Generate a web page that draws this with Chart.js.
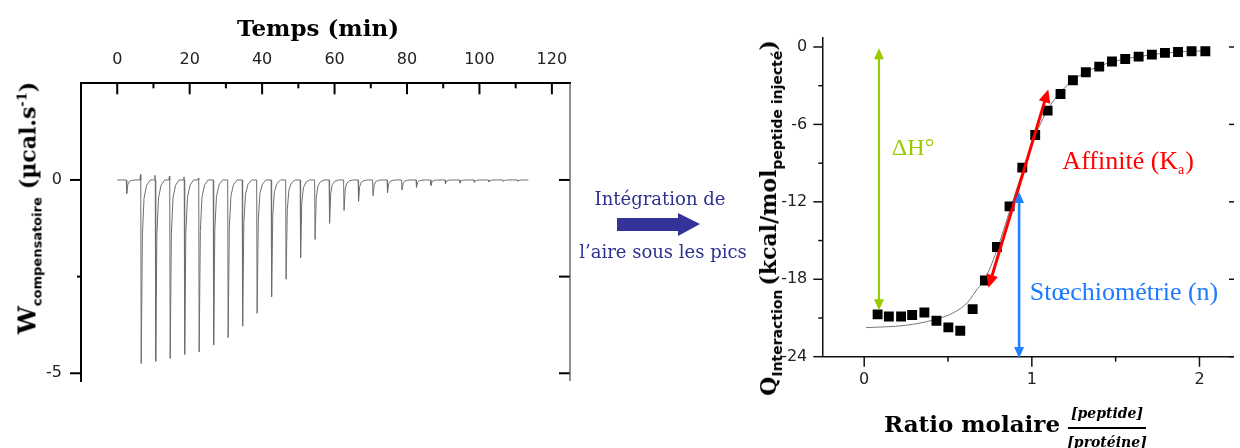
<!DOCTYPE html>
<html>
<head>
<meta charset="utf-8">
<script src="https://cdn.jsdelivr.net/npm/chart.js@4.4.0/dist/chart.umd.min.js"></script>
<style>
  body { margin: 0; width: 1240px; height: 448px; overflow: hidden; position: relative; background: #fff; }
  canvas { position: absolute; top: 0; }
  #thermo { left: 0; }
  #isotherm { left: 760px; }
  .t { position: absolute; white-space: nowrap; line-height: 1; transform: translate(-50%, -50%); }
  .bs { font-family: "DejaVu Serif", serif; font-weight: bold; }
  .sub { font-family: "DejaVu Sans", sans-serif; font-weight: bold; position: relative; top: 0.45em; }
  .mid { font-family: "DejaVu Serif", serif; font-size: 18px; color: #2e3192; }
</style>
</head>
<body>
<canvas id="thermo" width="600" height="448"></canvas>
<canvas id="isotherm" width="480" height="448"></canvas>

<div class="t bs" style="left:318px; top:27px; font-size:23px">Temps (min)</div>

<div class="t" style="left:27px; top:208px; transform:translate(-50%,-50%) rotate(-90deg)">
  <span class="bs" style="font-size:25px">W</span><span class="sub" style="font-size:13px">compensatoire</span>&nbsp;&nbsp;<span class="bs" style="font-size:22px">(µcal.s<span style="font-size:13px; position:relative; top:-0.7em">-1</span>)</span>
</div>

<div class="t mid" style="left:660px; top:199px">Intégration de</div>
<svg style="position:absolute; left:610px; top:205px" width="100" height="40">
  <polygon points="7,13 68,13 68,8 90,19 68,31 68,26 7,26" fill="#333399"/>
</svg>
<div class="t mid" style="left:663px; top:252px">l’aire sous les pics</div>

<div class="t" style="left:768px; top:218px; transform:translate(-50%,-50%) rotate(-90deg)">
  <span class="bs" style="font-size:22px">Q</span><span class="sub" style="font-size:14px">Interaction</span>&nbsp;<span class="bs" style="font-size:22px">(kcal/mol</span><span class="sub" style="font-size:14px">peptide injecté</span><span class="bs" style="font-size:22px">)</span>
</div>

<div class="t bs" style="left:884px; top:423px; font-size:23px; transform:translate(0,-50%)">Ratio molaire</div>
<div class="t bs" style="left:1107px; top:413px; font-size:14px; font-style:italic">[peptide]</div>
<div style="position:absolute; left:1068px; top:427px; width:78px; height:2px; background:#000"></div>
<div class="t bs" style="left:1107px; top:442px; font-size:14px; font-style:italic">[protéine]</div>

<script>
  // thermogram (left)
  const timeTicks = [0, 20, 40, 60, 80, 100, 120]
  const timeMinorTicks = [10, 30, 50, 70, 90, 110]
  const powerTicks = [0, -5]
  const powerMinorTicks = [-2.5]
  const injectionTimes = [2.5, 6.5, 10.5, 14.5, 18.5, 22.5, 26.5, 30.5, 34.5, 38.5, 42.5, 46.5, 50.5, 54.5,
    58.5, 62.5, 66.5, 70.5, 74.5, 78.5, 82.5, 86.5, 90.5, 94.5, 98.5, 102.5, 106.5, 110.5]
  const peakDepths = [-0.35, -4.75, -4.69, -4.62, -4.51, -4.45, -4.27, -4.08, -3.78, -3.45, -3.02, -2.57, -2.01, -1.54,
    -1.12, -0.79, -0.55, -0.41, -0.33, -0.26, -0.19, -0.14, -0.10, -0.08, -0.06, -0.05, -0.04, -0.03]
  const peakOvershoot = [0, 0.14, 0.12, 0.1, 0.08, 0.05, 0, 0, 0, 0, 0, 0, 0, 0, 0, 0, 0, 0, 0, 0, 0, 0, 0, 0, 0, 0, 0, 0]
  const runStart = 0
  const runEnd = 113.5
  // shape of one peak: minutes after injection / fraction of depth
  const peakShapeTime = [0, 0.12, 0.45, 0.9, 1.6, 2.6]
  const peakShapeFraction = [0, 1, 0.3, 0.1, 0.03, 0]

  // isotherm (right)
  const ratioTicks = [0, 1, 2]
  const ratioMinorTicks = [0.5, 1.5]
  const qTicks = [0, -6, -12, -18, -24]
  const qMinorTicks = [-3, -9, -15, -21]
  const molarRatio = [0.080, 0.147, 0.220, 0.286, 0.359, 0.431, 0.502, 0.573, 0.647, 0.720, 0.792, 0.867, 0.943, 1.020,
    1.094, 1.171, 1.245, 1.322, 1.402, 1.478, 1.557, 1.637, 1.716, 1.794, 1.872, 1.953, 2.035]
  const qInteraction = [-20.72, -20.88, -20.88, -20.77, -20.57, -21.21, -21.73, -21.99, -20.31, -18.09, -15.50, -12.35, -9.35, -6.82,
    -4.93, -3.64, -2.58, -1.96, -1.52, -1.13, -0.93, -0.75, -0.59, -0.46, -0.39, -0.33, -0.33]
  const fitRatio = [0.01, 0.245, 0.42, 0.54, 0.618, 0.676, 0.716, 0.79, 0.87, 0.94, 1.01, 1.08, 1.15, 1.245, 1.32, 1.40,
    1.48, 1.56, 1.64, 1.72, 1.80, 1.87, 1.95, 2.04]
  const fitQ = [-21.75, -21.57, -21.13, -20.54, -19.77, -18.73, -18.09, -15.8, -12.6, -9.8, -7.2, -5.2, -3.8, -2.6, -1.96, -1.5,
    -1.15, -0.92, -0.74, -0.59, -0.47, -0.39, -0.33, -0.30]
  const enthalpyArrow = [[0.088, -0.1], [0.088, -20.4]]
  const affinityArrow = [[0.741, -18.65], [1.098, -3.30]]
  const stoichArrow = [[0.924, -11.24], [0.924, -24.1]]

  const thermogram = [{ x: runStart, y: 0 }]
  injectionTimes.forEach((t, i) => {
    if (peakOvershoot[i]) thermogram.push({ x: t - 0.25, y: 0 }, { x: t - 0.08, y: peakOvershoot[i] })
    peakShapeTime.forEach((dt, k) => thermogram.push({ x: t + dt, y: peakDepths[i] * peakShapeFraction[k] }))
  })
  thermogram.push({ x: runEnd, y: 0 })

  function seg(ctx, x1, y1, x2, y2) {
    ctx.beginPath()
    ctx.moveTo(x1, y1)
    ctx.lineTo(x2, y2)
    ctx.stroke()
  }

  const thermoFrame = {
    id: 'thermoFrame',
    afterDraw(chart) {
      const { ctx, chartArea: a, scales: { x, y } } = chart
      ctx.save()
      ctx.strokeStyle = '#000'
      ctx.lineWidth = 2
      timeTicks.forEach(v => seg(ctx, x.getPixelForValue(v), a.top, x.getPixelForValue(v), a.top + 11))
      timeMinorTicks.forEach(v => seg(ctx, x.getPixelForValue(v), a.top, x.getPixelForValue(v), a.top + 5))
      powerTicks.forEach(v => seg(ctx, a.left - 11, y.getPixelForValue(v), a.left, y.getPixelForValue(v)))
      powerMinorTicks.forEach(v => seg(ctx, a.left - 4, y.getPixelForValue(v), a.left, y.getPixelForValue(v)))
      powerTicks.concat(powerMinorTicks).forEach(v => seg(ctx, a.right - 11, y.getPixelForValue(v), a.right, y.getPixelForValue(v)))
      ctx.strokeStyle = '#555'
      ctx.lineWidth = 1.3
      seg(ctx, a.right, a.top, a.right, a.bottom)
      ctx.restore()
    }
  }

  const tickFont = { family: 'DejaVu Sans', size: 16 }

  new Chart(document.getElementById('thermo'), {
    type: 'line',
    data: {
      datasets: [{ data: thermogram, borderColor: '#6e6e6e', borderWidth: 1, pointRadius: 0, tension: 0 }]
    },
    options: {
      responsive: false,
      animation: false,
      devicePixelRatio: 1,
      layout: { padding: { left: 0, top: 0, right: 30, bottom: 67 } },
      plugins: { legend: { display: false }, tooltip: { enabled: false } },
      scales: {
        x: {
          type: 'linear', position: 'top', min: -10, max: 125,
          afterBuildTicks: s => { s.ticks = timeTicks.map(v => ({ value: v })) },
          afterFit: s => { s.height = 83.3 },
          grid: { display: false, drawTicks: false },
          border: { display: true, color: '#000', width: 2 },
          ticks: { padding: 14, color: '#222', font: tickFont, maxRotation: 0, autoSkip: false }
        },
        y: {
          type: 'linear', min: -5.2, max: 2.5,
          afterBuildTicks: s => { s.ticks = powerTicks.map(v => ({ value: v })) },
          afterFit: s => { s.width = 81 },
          grid: { display: false, drawTicks: false },
          border: { display: true, color: '#000', width: 2 },
          ticks: { padding: 19, color: '#222', font: tickFont }
        }
      }
    },
    plugins: [thermoFrame]
  })

  const arrows = [
    { pts: enthalpyArrow, color: '#99cc00', width: 2.2, len: 11, half: 5 },
    { pts: affinityArrow, color: '#ff0000', width: 3, len: 13, half: 6 },
    { pts: stoichArrow, color: '#1e82ff', width: 2.6, len: 11, half: 5 }
  ]
  const notes = [
    { text: 'ΔH°', x: 0.165, y: -7.85, color: '#99cc00', size: 24 },
    { text: 'Affinité (K', sub: 'a', after: ')', x: 1.182, y: -8.91, color: '#ff0000', size: 26 },
    { text: 'Stœchiométrie (n)', x: 0.988, y: -19.07, color: '#1e7bff', size: 26 }
  ]

  function head(ctx, tip, from, len, half) {
    const d = Math.hypot(tip.x - from.x, tip.y - from.y)
    const ux = (tip.x - from.x) / d, uy = (tip.y - from.y) / d
    const bx = tip.x - ux * len, by = tip.y - uy * len
    ctx.beginPath()
    ctx.moveTo(tip.x, tip.y)
    ctx.lineTo(bx - uy * half, by + ux * half)
    ctx.lineTo(bx + uy * half, by - ux * half)
    ctx.closePath()
    ctx.fill()
  }

  const isoFrame = {
    id: 'isoFrame',
    afterDatasetsDraw(chart) {
      const { ctx, chartArea: a, scales: { x, y } } = chart
      ctx.save()
      ctx.strokeStyle = '#111'
      ctx.lineWidth = 1.5
      ratioTicks.forEach(v => seg(ctx, x.getPixelForValue(v), a.bottom, x.getPixelForValue(v), a.bottom + 10))
      ratioMinorTicks.forEach(v => seg(ctx, x.getPixelForValue(v), a.bottom, x.getPixelForValue(v), a.bottom + 5))
      qTicks.forEach(v => seg(ctx, a.left - 9, y.getPixelForValue(v), a.left, y.getPixelForValue(v)))
      qMinorTicks.forEach(v => seg(ctx, a.left - 4, y.getPixelForValue(v), a.left, y.getPixelForValue(v)))
      qTicks.forEach(v => seg(ctx, a.right - 4, y.getPixelForValue(v), a.right + 1, y.getPixelForValue(v)))

      // double arrows from the arrow datasets
      arrows.forEach((arw, i) => {
        const pts = chart.getDatasetMeta(i + 2).data
        const p0 = { x: pts[0].x, y: pts[0].y }, p1 = { x: pts[1].x, y: pts[1].y }
        const d = Math.hypot(p1.x - p0.x, p1.y - p0.y)
        const ux = (p1.x - p0.x) / d, uy = (p1.y - p0.y) / d
        ctx.strokeStyle = arw.color
        ctx.fillStyle = arw.color
        ctx.lineWidth = arw.width
        seg(ctx, p0.x + ux * (arw.len - 2), p0.y + uy * (arw.len - 2), p1.x - ux * (arw.len - 2), p1.y - uy * (arw.len - 2))
        head(ctx, p0, p1, arw.len, arw.half)
        head(ctx, p1, p0, arw.len, arw.half)
      })

      ctx.textBaseline = 'middle'
      ctx.textAlign = 'left'
      notes.forEach(n => {
        const px = x.getPixelForValue(n.x), py = y.getPixelForValue(n.y)
        ctx.fillStyle = n.color
        ctx.font = n.size + 'px "Liberation Serif"'
        ctx.fillText(n.text, px, py)
        if (n.sub) {
          let w = ctx.measureText(n.text).width
          ctx.font = Math.round(n.size * 0.55) + 'px "Liberation Serif"'
          ctx.fillText(n.sub, px + w, py + n.size * 0.32)
          w += ctx.measureText(n.sub).width + 1
          ctx.font = n.size + 'px "Liberation Serif"'
          ctx.fillText(n.after, px + w, py)
        }
      })
      ctx.restore()
    }
  }

  const toPoints = pairs => pairs.map(p => ({ x: p[0], y: p[1] }))

  new Chart(document.getElementById('isotherm'), {
    type: 'scatter',
    data: {
      datasets: [
        {
          data: molarRatio.map((r, i) => ({ x: r, y: qInteraction[i] })),
          pointStyle: 'rect', pointRadius: 7, pointBorderWidth: 0,
          pointBackgroundColor: '#000', showLine: false, order: 1
        },
        {
          data: fitRatio.map((r, i) => ({ x: r, y: fitQ[i] })),
          showLine: true, borderColor: '#777', borderWidth: 1, pointRadius: 0,
          cubicInterpolationMode: 'monotone', order: 2
        },
        ...arrows.map(arw => ({ data: toPoints(arw.pts), showLine: false, pointRadius: 0, clip: false, order: 0 }))
      ]
    },
    options: {
      responsive: false,
      animation: false,
      devicePixelRatio: 1,
      layout: { padding: { left: 0, top: 37.3, right: 1, bottom: 0 } },
      plugins: { legend: { display: false }, tooltip: { enabled: false } },
      scales: {
        x: {
          type: 'linear', min: -0.25, max: 2.2,
          afterBuildTicks: s => { s.ticks = ratioTicks.map(v => ({ value: v })) },
          afterFit: s => { s.height = 91.3 },
          grid: { display: false, drawTicks: false },
          border: { display: true, color: '#111', width: 1.5 },
          ticks: { padding: 14, color: '#222', font: tickFont, maxRotation: 0, autoSkip: false }
        },
        y: {
          type: 'linear', min: -24, max: 0.75,
          afterBuildTicks: s => { s.ticks = qTicks.map(v => ({ value: v })) },
          afterFit: s => { s.width = 62.3 },
          grid: { display: false, drawTicks: false },
          border: { display: true, color: '#111', width: 1.5 },
          ticks: { padding: 15, color: '#222', font: tickFont }
        }
      }
    },
    plugins: [isoFrame]
  })
</script>
</body>
</html>
